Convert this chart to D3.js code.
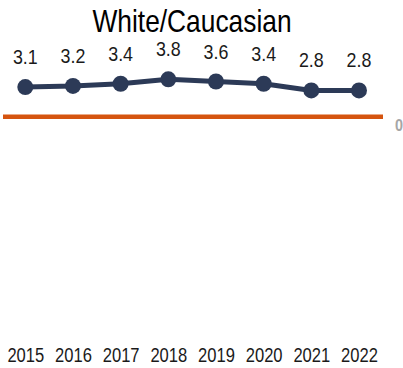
<!DOCTYPE html>
<html>
<head>
<meta charset="utf-8">
<script src="https://cdn.jsdelivr.net/npm/d3@7"></script>
<style>
  html, body { margin: 0; padding: 0; background: #ffffff; }
  svg { display: block; }
  text { font-family: "Liberation Sans", Arial, sans-serif; }
</style>
</head>
<body>
<div id="chart"></div>
<script>
const title = "White/Caucasian";
const years = ["2015", "2016", "2017", "2018", "2019", "2020", "2021", "2022"];
const values = [3.1, 3.2, 3.4, 3.8, 3.6, 3.4, 2.8, 2.8];
const axisTicks = [0];

const W = 403, H = 368;
const SX = 0.85; // horizontal condensation (narrow font look)
const svg = d3.select("#chart").append("svg").attr("width", W).attr("height", H);

const x = d3.scalePoint().domain(years).range([25.3, 359]);
const y = d3.scaleLinear().domain([0, 3.8]).range([121.5, 79.3]);

// title
svg.append("text")
  .attr("transform", `translate(192,31.5) scale(${SX},1)`)
  .attr("text-anchor", "middle")
  .attr("font-size", 31)
  .attr("fill", "#000")
  .text(title);

// orange baseline
svg.append("line")
  .attr("x1", 3).attr("x2", 383)
  .attr("y1", y(0) - 4.8).attr("y2", y(0) - 4.8)
  .attr("stroke", "#d5540f").attr("stroke-width", 4.5);

// right axis tick label
const yAxis = d3.axisRight(y).tickValues(axisTicks).tickFormat(d3.format("d")).tickSize(0).tickPadding(0);
const ag = svg.append("g").attr("transform", "translate(399,4)").call(yAxis);
ag.select(".domain").remove();
ag.selectAll("text")
  .attr("x", 0)
  .attr("text-anchor", "middle")
  .attr("transform", `scale(${SX},1)`)
  .attr("font-size", 17).attr("font-weight", "bold")
  .attr("fill", "#a6a6a6")
  .style("font-family", "'Liberation Sans', Arial, sans-serif");

// line
const line = d3.line().x((d, i) => x(years[i])).y(d => y(d));
svg.append("path")
  .datum(values)
  .attr("d", line)
  .attr("fill", "none")
  .attr("stroke", "#2c3a57")
  .attr("stroke-width", 5)
  .attr("stroke-linejoin", "round");

svg.selectAll("circle.pt")
  .data(values).enter().append("circle")
  .attr("class", "pt")
  .attr("cx", (d, i) => x(years[i]))
  .attr("cy", d => y(d))
  .attr("r", 8)
  .attr("fill", "#2c3a57");

// value labels
svg.selectAll("text.val")
  .data(values).enter().append("text")
  .attr("class", "val")
  .attr("transform", (d, i) => `translate(${x(years[i])},${y(d) - 23}) scale(${SX},1)`)
  .attr("text-anchor", "middle")
  .attr("font-size", 21)
  .attr("fill", "#1a1a1a")
  .text(d => d.toFixed(1));

// x axis labels
const xAxis = d3.axisBottom(x).tickSize(0).tickPadding(0);
const xg = svg.append("g").attr("transform", "translate(0,348)").call(xAxis);
xg.select(".domain").remove();
xg.selectAll("text")
  .attr("transform", `scale(${SX},1)`)
  .attr("font-size", 19.5)
  .attr("fill", "#1a1a1a")
  .style("font-family", "'Liberation Sans', Arial, sans-serif");
</script>
</body>
</html>
